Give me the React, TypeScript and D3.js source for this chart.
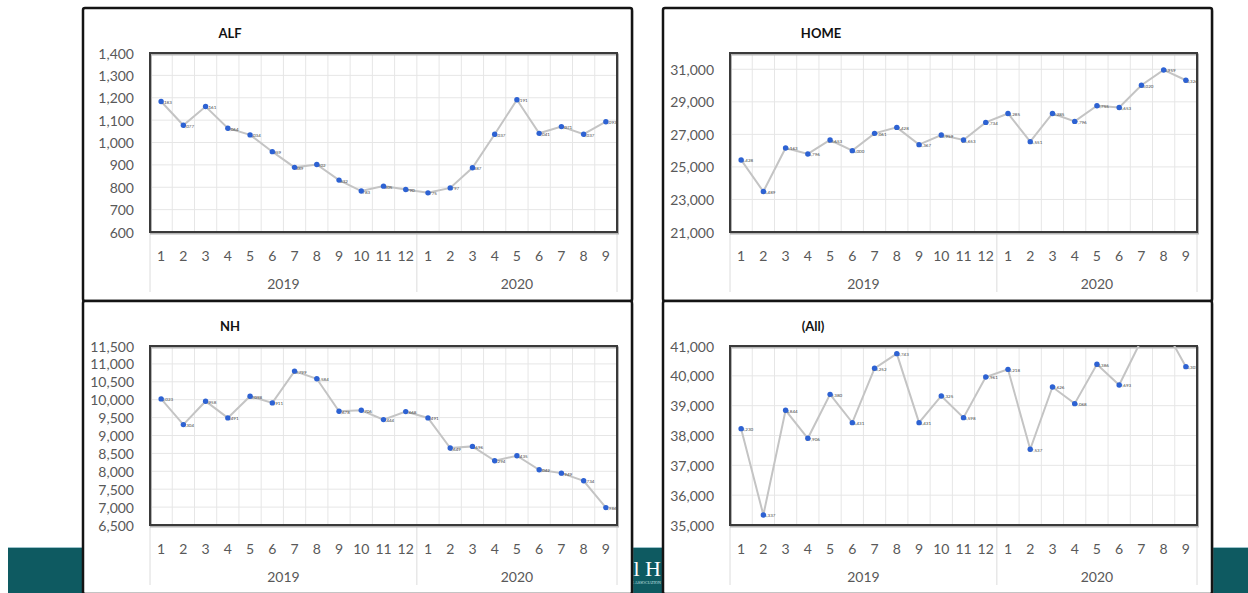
import React from 'react';
import * as d3 from 'd3';

// month categories, two years
const months = ['1', '2', '3', '4', '5', '6', '7', '8', '9', '10', '11', '12', '1', '2', '3', '4', '5', '6', '7', '8', '9'];
const years = ['2019', '2020'];
const yearLengths = [12, 9];

const alfValues = [1183, 1077, 1161, 1064, 1034, 959, 889, 902, 832, 783, 805, 790, 775, 797, 887, 1037, 1191, 1041, 1071, 1037, 1093];
const homeValues = [25428, 23489, 26163, 25796, 26653, 26000, 27061, 27428, 26367, 26959, 26653, 27734, 28285, 26551, 28285, 27796, 28755, 28653, 30020, 30959, 30326];
const nhValues = [10023, 9304, 9958, 9491, 10098, 9911, 10799, 10584, 9678, 9706, 9444, 9668, 9491, 8649, 8696, 8294, 8435, 8042, 7949, 7734, 6986];
const allValues = [38230, 35337, 38844, 37906, 39380, 38431, 40252, 40743, 38431, 39325, 38598, 39961, 40218, 37537, 39626, 39068, 40386, 39693, 41200, 41650, 40307];

const alfTicks = [600, 700, 800, 900, 1000, 1100, 1200, 1300, 1400];
const homeTicks = [21000, 23000, 25000, 27000, 29000, 31000];
const nhTicks = [6500, 7000, 7500, 8000, 8500, 9000, 9500, 10000, 10500, 11000, 11500];
const allTicks = [35000, 36000, 37000, 38000, 39000, 40000, 41000];

const fmt = d3.format(',');
const FONT = 'Lato, "Open Sans", sans-serif';

interface PanelProps {
  id: string;
  title: string;
  values: number[];
  ticks: number[];
  domain: [number, number];
  x0: number;
  y0: number;
  titleX: number;
}

const Panel: React.FC<PanelProps> = ({ id, title, values, ticks, domain, x0, y0, titleX }) => {
  const left = x0 + 67;
  const right = x0 + 534;
  const top = y0 + 45;
  const bottom = y0 + 224;

  const x = d3.scaleBand<number>().domain(d3.range(months.length)).range([left, right]);
  const y = d3.scaleLinear().domain(domain).range([bottom, top]);
  const cx = (i: number) => x(i)! + x.bandwidth() / 2;

  const line = d3.line<number>()
    .x((_, i) => cx(i))
    .y(d => y(d));

  // year group boundaries
  let acc = 0;
  const groups = years.map((yr, k) => {
    const start = acc;
    acc += yearLengths[k];
    return { yr, start, end: acc };
  });
  const bounds = [left, ...groups.map(g => x(g.end - 1)! + x.bandwidth())];

  return (
    <g>
      <rect x={x0 + 1.5} y={y0 + 1.5} width={549} height={293} fill="#9a9a9a" opacity={0.5} rx={2} />
      <rect x={x0} y={y0} width={549} height={293} fill="#fff" stroke="#141414" strokeWidth={2.5} rx={2} />
      <text x={x0 + titleX} y={y0 + 25} fontFamily={FONT} fontSize={13} fontWeight="bold" fill="#111" textAnchor="middle" dominantBaseline="central">{title}</text>

      {/* gridlines */}
      {ticks.map(t => (
        <line key={'h' + t} x1={left} x2={right} y1={y(t)} y2={y(t)} stroke="#e6e6e6" strokeWidth={1} />
      ))}
      {d3.range(1, months.length).map(i => (
        <line key={'v' + i} x1={x(i)!} x2={x(i)!} y1={top} y2={bottom} stroke="#e6e6e6" strokeWidth={1} />
      ))}

      {/* category axis dividers */}
      {bounds.map((b, i) => (
        <line key={'d' + i} x1={b} x2={b} y1={bottom} y2={bottom + 60} stroke="#dcdcdc" strokeWidth={1} />
      ))}

      {/* plot frame */}
      <rect x={left + 1} y={top + 1.5} width={right - left} height={bottom - top} fill="none" stroke="#b5b5b5" strokeWidth={2} />
      <rect x={left} y={top} width={right - left} height={bottom - top} fill="none" stroke="#3a3a3a" strokeWidth={2} />

      <clipPath id={'clip-' + id}>
        <rect x={left} y={top} width={right - left} height={bottom - top} />
      </clipPath>
      <g clipPath={`url(#clip-${id})`}>
        <path d={line(values) ?? ''} fill="none" stroke="#c4c4c4" strokeWidth={2} />
        {values.map((v, i) => (
          <g key={'p' + i}>
            <text x={cx(i) + 5} y={y(v) + 1} fontFamily={FONT} fontSize={4.5} fill="#444" textAnchor="middle" dominantBaseline="central">{fmt(v)}</text>
            <circle cx={cx(i)} cy={y(v)} r={2.7} fill="#2d62d3" />
          </g>
        ))}
      </g>

      {/* value axis labels */}
      {ticks.map(t => (
        <text key={'t' + t} x={left - 16} y={y(t)} fontFamily={FONT} fontSize={14} fill="#595959" textAnchor="end" dominantBaseline="central">{fmt(t)}</text>
      ))}

      {/* month labels */}
      {months.map((m, i) => (
        <text key={'m' + i} x={cx(i)} y={bottom + 23} fontFamily={FONT} fontSize={14} fill="#595959" textAnchor="middle" dominantBaseline="central">{m}</text>
      ))}

      {/* year labels */}
      {groups.map((g, k) => (
        <text key={g.yr} x={(bounds[k] + bounds[k + 1]) / 2} y={bottom + 51} fontFamily={FONT} fontSize={14} fill="#595959" textAnchor="middle" dominantBaseline="central">{g.yr}</text>
      ))}
    </g>
  );
};

const App: React.FC = () => {
  return (
    <svg width={1248} height={593} style={{ position: 'fixed', left: 0, top: 0, background: '#fff' }}>
      <rect x={8} y={547} width={1240} height={46} fill="#0e5a61" />
      <line x1={8} x2={1248} y1={547.5} y2={547.5} stroke="#9cc3cb" strokeWidth={1} />
      <text x={661} y={576} fontFamily="'Liberation Serif', serif" fontSize={22} fill="#fff" textAnchor="end">nal H</text>
      <text x={661} y={584} fontFamily="'Liberation Serif', serif" fontSize={4} fill="#cfe3e6" textAnchor="end">HEALTHCARE ASSOCIATION</text>

      <Panel id="alf" title="ALF" values={alfValues} ticks={alfTicks} domain={[600, 1400]} x0={83} y0={8} titleX={147} />
      <Panel id="home" title="HOME" values={homeValues} ticks={homeTicks} domain={[21000, 32000]} x0={663} y0={8} titleX={158} />
      <Panel id="nh" title="NH" values={nhValues} ticks={nhTicks} domain={[6500, 11500]} x0={83} y0={301} titleX={147} />
      <Panel id="all" title="(All)" values={allValues} ticks={allTicks} domain={[35000, 41000]} x0={663} y0={301} titleX={150} />
    </svg>
  );
};

export default App;
